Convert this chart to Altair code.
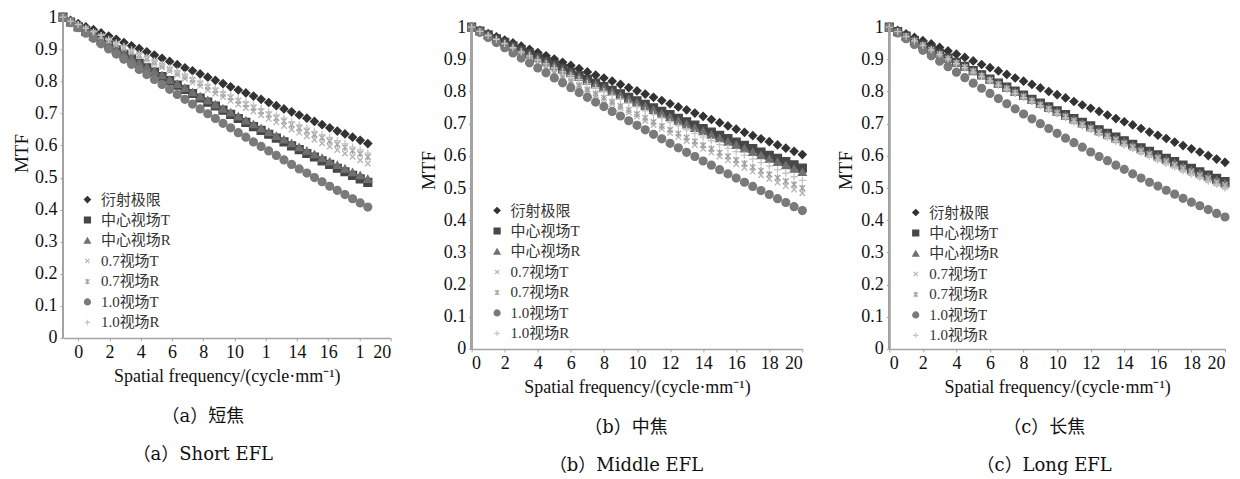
import altair as alt
import pandas as pd

# ---------------- data ----------------
FREQ = [0, 0.5, 1, 1.5, 2, 2.5, 3, 3.5, 4, 4.5, 5, 5.5, 6, 6.5, 7, 7.5, 8, 8.5, 9, 9.5,
        10, 10.5, 11, 11.5, 12, 12.5, 13, 13.5, 14, 14.5, 15, 15.5, 16, 16.5, 17, 17.5,
        18, 18.5, 19, 19.5, 20]

SERIES = ["衍射极限", "中心视场T", "中心视场R", "0.7视场T", "0.7视场R", "1.0视场T", "1.0视场R"]

# (a) short EFL
A_DIFF = [1.000, 0.990, 0.980, 0.970, 0.961, 0.951, 0.941, 0.931, 0.921, 0.911, 0.902, 0.892, 0.882, 0.872, 0.862, 0.852, 0.842, 0.833, 0.823, 0.813, 0.803, 0.793, 0.783, 0.773, 0.764, 0.754, 0.744, 0.734, 0.724, 0.714, 0.705, 0.695, 0.685, 0.675, 0.665, 0.655, 0.645, 0.636, 0.626, 0.616, 0.606]
A_CT = [1.000, 0.985, 0.970, 0.956, 0.941, 0.927, 0.913, 0.898, 0.884, 0.870, 0.856, 0.842, 0.829, 0.815, 0.802, 0.788, 0.775, 0.762, 0.748, 0.735, 0.723, 0.710, 0.697, 0.684, 0.672, 0.659, 0.647, 0.635, 0.623, 0.611, 0.599, 0.587, 0.575, 0.564, 0.552, 0.541, 0.529, 0.518, 0.507, 0.496, 0.485]
A_CR = [1.000, 0.985, 0.971, 0.957, 0.942, 0.928, 0.914, 0.900, 0.886, 0.873, 0.859, 0.845, 0.832, 0.819, 0.805, 0.792, 0.779, 0.766, 0.753, 0.741, 0.728, 0.715, 0.703, 0.691, 0.678, 0.666, 0.654, 0.642, 0.630, 0.619, 0.607, 0.595, 0.584, 0.573, 0.561, 0.550, 0.539, 0.528, 0.517, 0.507, 0.496]
A_07T = [1.000, 0.988, 0.975, 0.963, 0.951, 0.939, 0.926, 0.914, 0.902, 0.890, 0.879, 0.867, 0.855, 0.843, 0.831, 0.820, 0.808, 0.796, 0.785, 0.773, 0.762, 0.751, 0.739, 0.728, 0.717, 0.706, 0.694, 0.683, 0.672, 0.661, 0.650, 0.640, 0.629, 0.618, 0.607, 0.597, 0.586, 0.575, 0.565, 0.554, 0.544]
A_07R = [1.000, 0.988, 0.976, 0.965, 0.953, 0.941, 0.929, 0.918, 0.906, 0.895, 0.883, 0.872, 0.861, 0.850, 0.838, 0.827, 0.816, 0.805, 0.794, 0.783, 0.772, 0.761, 0.750, 0.740, 0.729, 0.718, 0.707, 0.697, 0.686, 0.676, 0.665, 0.655, 0.645, 0.634, 0.624, 0.614, 0.604, 0.594, 0.584, 0.574, 0.564]
A_10T = [1.000, 0.983, 0.967, 0.950, 0.934, 0.917, 0.901, 0.885, 0.869, 0.853, 0.837, 0.821, 0.806, 0.790, 0.775, 0.759, 0.744, 0.729, 0.714, 0.699, 0.684, 0.669, 0.655, 0.640, 0.626, 0.611, 0.597, 0.583, 0.569, 0.555, 0.541, 0.527, 0.514, 0.500, 0.487, 0.473, 0.460, 0.447, 0.434, 0.421, 0.408]
A_10R = [1.000, 0.988, 0.977, 0.965, 0.954, 0.943, 0.931, 0.920, 0.909, 0.898, 0.886, 0.875, 0.864, 0.853, 0.842, 0.832, 0.821, 0.810, 0.799, 0.789, 0.778, 0.767, 0.757, 0.746, 0.736, 0.726, 0.715, 0.705, 0.695, 0.685, 0.674, 0.664, 0.654, 0.644, 0.634, 0.625, 0.615, 0.605, 0.595, 0.586, 0.576]

# (b) middle EFL
B_DIFF = [1.000, 0.990, 0.980, 0.970, 0.960, 0.951, 0.941, 0.931, 0.921, 0.911, 0.901, 0.891, 0.881, 0.871, 0.861, 0.851, 0.842, 0.832, 0.822, 0.812, 0.802, 0.792, 0.782, 0.772, 0.762, 0.752, 0.743, 0.733, 0.723, 0.713, 0.703, 0.693, 0.683, 0.673, 0.663, 0.653, 0.644, 0.634, 0.624, 0.614, 0.604]
B_CT = [1.000, 0.988, 0.976, 0.964, 0.953, 0.941, 0.929, 0.918, 0.906, 0.894, 0.883, 0.872, 0.860, 0.849, 0.838, 0.826, 0.815, 0.804, 0.793, 0.782, 0.771, 0.760, 0.749, 0.738, 0.728, 0.717, 0.706, 0.696, 0.685, 0.674, 0.664, 0.654, 0.643, 0.633, 0.623, 0.612, 0.602, 0.592, 0.582, 0.572, 0.562]
B_CR = [1.000, 0.988, 0.976, 0.963, 0.951, 0.939, 0.927, 0.915, 0.904, 0.892, 0.880, 0.868, 0.857, 0.845, 0.833, 0.822, 0.810, 0.799, 0.788, 0.776, 0.765, 0.754, 0.743, 0.731, 0.720, 0.709, 0.698, 0.687, 0.677, 0.666, 0.655, 0.644, 0.634, 0.623, 0.612, 0.602, 0.591, 0.581, 0.571, 0.560, 0.550]
B_07T = [1.000, 0.985, 0.970, 0.956, 0.941, 0.927, 0.912, 0.898, 0.884, 0.870, 0.856, 0.842, 0.828, 0.815, 0.801, 0.788, 0.774, 0.761, 0.748, 0.735, 0.722, 0.709, 0.696, 0.684, 0.671, 0.659, 0.646, 0.634, 0.622, 0.610, 0.598, 0.586, 0.574, 0.563, 0.551, 0.540, 0.528, 0.517, 0.506, 0.495, 0.484]
B_07R = [1.000, 0.986, 0.971, 0.957, 0.943, 0.929, 0.915, 0.901, 0.887, 0.874, 0.860, 0.847, 0.833, 0.820, 0.807, 0.794, 0.781, 0.768, 0.755, 0.743, 0.730, 0.718, 0.705, 0.693, 0.681, 0.669, 0.657, 0.645, 0.633, 0.622, 0.610, 0.599, 0.587, 0.576, 0.565, 0.554, 0.543, 0.532, 0.521, 0.511, 0.500]
B_10T = [1.000, 0.984, 0.968, 0.952, 0.936, 0.920, 0.904, 0.889, 0.873, 0.858, 0.842, 0.827, 0.812, 0.797, 0.782, 0.767, 0.753, 0.738, 0.724, 0.709, 0.695, 0.681, 0.667, 0.653, 0.639, 0.625, 0.611, 0.598, 0.584, 0.571, 0.557, 0.544, 0.531, 0.518, 0.505, 0.492, 0.480, 0.467, 0.455, 0.442, 0.430]
B_10R = [1.000, 0.987, 0.974, 0.962, 0.949, 0.936, 0.923, 0.911, 0.898, 0.886, 0.873, 0.861, 0.849, 0.837, 0.824, 0.812, 0.800, 0.788, 0.776, 0.764, 0.752, 0.740, 0.728, 0.717, 0.705, 0.693, 0.681, 0.670, 0.658, 0.647, 0.635, 0.624, 0.613, 0.602, 0.590, 0.579, 0.568, 0.557, 0.546, 0.535, 0.524]

# (c) long EFL
C_DIFF = [1.000, 0.990, 0.979, 0.968, 0.958, 0.948, 0.937, 0.926, 0.916, 0.906, 0.895, 0.884, 0.874, 0.864, 0.853, 0.842, 0.832, 0.822, 0.811, 0.800, 0.790, 0.780, 0.769, 0.758, 0.748, 0.738, 0.727, 0.716, 0.706, 0.696, 0.685, 0.674, 0.664, 0.654, 0.643, 0.632, 0.622, 0.612, 0.601, 0.590, 0.580]
C_CT = [1.000, 0.986, 0.972, 0.958, 0.945, 0.931, 0.918, 0.904, 0.891, 0.878, 0.865, 0.852, 0.839, 0.826, 0.814, 0.801, 0.789, 0.776, 0.764, 0.752, 0.740, 0.728, 0.716, 0.704, 0.693, 0.681, 0.670, 0.658, 0.647, 0.636, 0.625, 0.614, 0.603, 0.592, 0.582, 0.571, 0.561, 0.550, 0.540, 0.530, 0.520]
C_CR = [1.000, 0.986, 0.972, 0.958, 0.944, 0.930, 0.917, 0.903, 0.890, 0.877, 0.864, 0.850, 0.837, 0.825, 0.812, 0.799, 0.786, 0.774, 0.761, 0.749, 0.737, 0.725, 0.713, 0.701, 0.689, 0.677, 0.666, 0.654, 0.643, 0.632, 0.621, 0.609, 0.598, 0.587, 0.577, 0.566, 0.555, 0.545, 0.535, 0.524, 0.514]
C_07T = [1.000, 0.986, 0.972, 0.958, 0.944, 0.930, 0.916, 0.903, 0.889, 0.876, 0.863, 0.849, 0.836, 0.823, 0.810, 0.797, 0.785, 0.772, 0.760, 0.747, 0.735, 0.723, 0.711, 0.699, 0.687, 0.675, 0.663, 0.652, 0.640, 0.629, 0.617, 0.606, 0.595, 0.584, 0.573, 0.563, 0.552, 0.541, 0.531, 0.520, 0.510]
C_07R = [1.000, 0.986, 0.971, 0.957, 0.943, 0.929, 0.915, 0.902, 0.888, 0.874, 0.861, 0.848, 0.834, 0.821, 0.808, 0.795, 0.782, 0.770, 0.757, 0.744, 0.732, 0.720, 0.707, 0.695, 0.683, 0.671, 0.659, 0.648, 0.636, 0.624, 0.613, 0.602, 0.590, 0.579, 0.568, 0.557, 0.546, 0.536, 0.525, 0.514, 0.504]
C_10T = [1.000, 0.982, 0.964, 0.946, 0.928, 0.911, 0.894, 0.877, 0.860, 0.843, 0.826, 0.810, 0.794, 0.778, 0.762, 0.746, 0.730, 0.715, 0.700, 0.685, 0.670, 0.655, 0.641, 0.627, 0.612, 0.598, 0.585, 0.571, 0.558, 0.544, 0.531, 0.518, 0.506, 0.493, 0.481, 0.468, 0.456, 0.445, 0.433, 0.421, 0.410]
C_10R = [1.000, 0.986, 0.971, 0.957, 0.943, 0.929, 0.915, 0.901, 0.887, 0.874, 0.860, 0.847, 0.833, 0.820, 0.807, 0.794, 0.781, 0.768, 0.755, 0.743, 0.730, 0.718, 0.705, 0.693, 0.681, 0.669, 0.657, 0.645, 0.633, 0.622, 0.610, 0.599, 0.587, 0.576, 0.565, 0.554, 0.543, 0.532, 0.521, 0.511, 0.500]

Y_TICKS = [0, 0.1, 0.2, 0.3, 0.4, 0.5, 0.6, 0.7, 0.8, 0.9, 1]
A_XTICK_VALUES = [1, 3.05, 5.1, 7.15, 9.2, 11.25, 13.3, 15.35, 17.4, 19.45, 21.5]
A_XTICK_LABELS = ["0", "2", "4", "6", "8", "10", "1", "14", "16", "1", "20"]
BC_XTICK_VALUES = [0, 2, 4, 6, 8, 10, 12, 14, 16, 18, 20]

CAPTIONS = [
    ["（a）短焦", "（a）Short EFL"],
    ["（b）中焦", "（b）Middle EFL"],
    ["（c）长焦", "（c）Long EFL"],
]

# ---------------- style ----------------
COLORS = ["#333333", "#474747", "#707070", "#b4b4b4", "#a0a0a0", "#7a7a7a", "#c4c4c4"]
SHAPES = [
    "diamond",
    "square",
    "triangle-up",
    "M-0.7,-0.7L0.7,0.7M0.7,-0.7L-0.7,0.7",
    "M-0.7,-0.7L0.7,0.7M0.7,-0.7L-0.7,0.7M0,-0.9L0,0.9",
    "circle",
    "M0,-0.9L0,0.9M-0.9,0L0.9,0",
]
AXIS_GREY = "#a3a3a3"
SERIF = "Liberation Serif"
LEGEND_FONT = "Liberation Serif, Noto Sans CJK SC"
CAPTION_FONT = "DejaVu Serif, Noto Sans CJK SC"


def long_df(cols):
    rows = []
    for name, vals in zip(SERIES, cols):
        assert len(vals) == len(FREQ), name
        for f, v in zip(FREQ, vals):
            rows.append({"freq": f, "mtf": v, "series": name})
    return pd.DataFrame(rows)


def panel(cols, xdom, ydom, width, height, top_gap, xvals, label_expr, legend_xy,
          caption, title_dx, ytitle_y, ytitle_pad):
    df = long_df(cols)
    leg = alt.Legend(
        title=None, orient="none", legendX=legend_xy[0], legendY=legend_xy[1],
        labelFont=LEGEND_FONT, labelFontSize=15, labelColor="#333",
        symbolSize=36, symbolStrokeWidth=1.2, rowPadding=4.5, labelOffset=6,
        padding=0,
    )
    xaxis_kw = dict(values=xvals, title="Spatial frequency/(cycle·mm⁻¹)",
                    titleFontSize=18, titlePadding=6, labelOverlap=False, labelBound=False)
    if label_expr:
        xaxis_kw["labelExpr"] = label_expr
    x = alt.X("freq:Q", scale=alt.Scale(domain=xdom, nice=False, zero=False),
              axis=alt.Axis(**xaxis_kw))
    y = alt.Y("mtf:Q", scale=alt.Scale(domain=ydom, nice=False, zero=False),
              axis=alt.Axis(values=Y_TICKS, format="~g", title="MTF", domain=False,
                            labelOverlap=False, labelBound=False,
                            titleFontSize=19, titlePadding=ytitle_pad, titleY=ytitle_y))
    pts = alt.Chart(df).mark_point(filled=True, size=62, strokeWidth=1.3, opacity=1).encode(
        x=x, y=y,
        fill=alt.Fill("series:N", scale=alt.Scale(domain=SERIES, range=COLORS), legend=leg),
        stroke=alt.Stroke("series:N", scale=alt.Scale(domain=SERIES, range=COLORS), legend=leg),
        shape=alt.Shape("series:N", scale=alt.Scale(domain=SERIES, range=SHAPES), legend=leg),
    )
    # y-axis line (axis decoration, spans the 0..1 part of the plot)
    yline = alt.Chart(df).mark_rule(color=AXIS_GREY, strokeWidth=1.5).encode(
        x=alt.value(0), y=alt.value(top_gap), y2=alt.value(height),
    )
    return alt.layer(pts, yline).properties(
        width=width, height=height,
        title=alt.TitleParams(text=caption, orient="bottom", anchor="middle",
                              font=CAPTION_FONT, fontSize=18, fontWeight="normal",
                              color="#111", lineHeight=38, offset=22, dx=title_dx),
    )


a_expr = "[" + ",".join("'%s'" % s for s in A_XTICK_LABELS) + "][indexof([" + \
    ",".join(str(v) for v in A_XTICK_VALUES) + "], datum.value)]"

pa = panel([A_DIFF, A_CT, A_CR, A_07T, A_07R, A_10T, A_10R], [0, 21.5], [0, 1],
           328, 321, 0, A_XTICK_VALUES, a_expr, (17, 175), CAPTIONS[0], -24, 136, 3)
pb = panel([B_DIFF, B_CT, B_CR, B_07T, B_07R, B_10T, B_10R], [0, 20], [0, 1.031],
           331, 332, 10, BC_XTICK_VALUES, None, (18, 186), CAPTIONS[1], -11, 153, 5)
pc = panel([C_DIFF, C_CT, C_CR, C_07T, C_07R, C_10T, C_10R], [0, 20], [0, 1.031],
           336, 332, 10, BC_XTICK_VALUES, None, (19, 188), CAPTIONS[2], -13, 153, 5)

chart = alt.hconcat(pa, pb, pc, spacing=27).resolve_scale(
    fill="independent", stroke="independent", shape="independent"
).resolve_legend(
    fill="independent", stroke="independent", shape="independent"
).properties(
    padding={"left": 4, "top": 0, "right": 0, "bottom": 0}
).configure_view(stroke=None).configure_axis(
    grid=False, domainColor=AXIS_GREY, domainWidth=1.5, tickColor=AXIS_GREY,
    tickSize=3, labelFont=SERIF, labelFontSize=18, labelColor="#111", labelPadding=3,
    labelOverlap=False, titleFont=SERIF, titleFontWeight="normal", titleColor="#111",
)

chart.save("out.html", embed_options={"renderer": "svg", "actions": False})
